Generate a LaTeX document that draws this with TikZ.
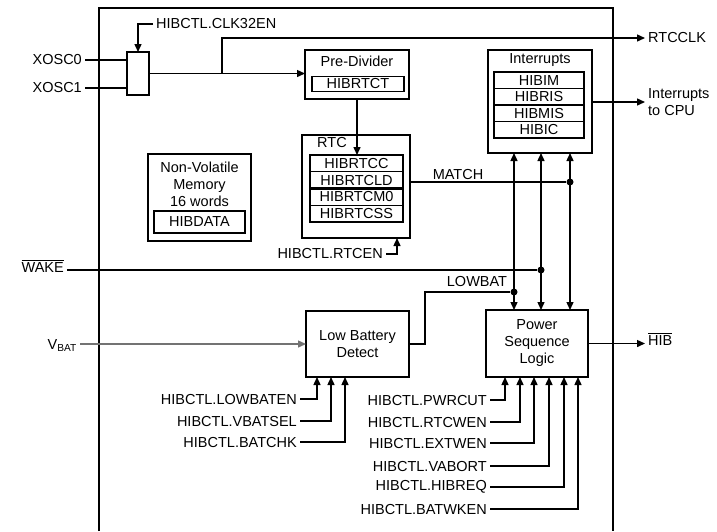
\documentclass[tikz,border=0pt]{standalone}
\usepackage{fontspec}
\setmainfont{Liberation Sans}
\usetikzlibrary{arrows.meta,positioning}

\begin{document}
\begin{tikzpicture}[
        x=1pt, y=-1pt,
        font=\fontsize{14.5}{17}\selectfont,
        block/.style={draw, line width=1.4pt, inner sep=0pt, outer sep=0pt},
        reg/.style={draw, line width=1.3pt, minimum width=90pt, minimum height=16.5pt, inner sep=0pt, outer sep=0pt},
        rtcreg/.style={reg, minimum width=93pt, minimum height=16.75pt},
        sig/.style={inner sep=3pt},
        wire/.style={line width=1.4pt},
        arr/.style={wire, -{Triangle[length=8pt,width=7pt]}},
        twoway/.style={wire, {Triangle[length=8pt,width=7pt]}-{Triangle[length=8pt,width=7pt]}},
        dot/.style={circle, fill, inner sep=0pt, minimum size=7pt}
    ]
    \useasboundingbox (0,0) rectangle (717,531);
    % module frame, open at the bottom
    \draw[line width=1.3pt] (99,531) |- (613,8) -- (613,531);

    % clock select
    \node[block, minimum width=22pt, minimum height=43pt] (mux) at (138,73.5) {};
    \node[sig, anchor=east] (xosc0) at (85,60) {XOSC0};
    \node[sig, anchor=east] (xosc1) at (85,88) {XOSC1};
    \node[sig, anchor=west] (clken) at (153,24) {HIBCTL.CLK32EN};
    \draw[wire] (xosc0.east) -- (xosc0.east -| mux.west);
    \draw[wire] (xosc1.east) -- (xosc1.east -| mux.west);
    \draw[arr] (clken.west) -| (mux.north);

    % pre-divider
    \node[block, minimum width=104pt, minimum height=49pt] (prediv) at (357,74.5) {};
    \node (prediv-t) at (357,61) {Pre-Divider};
    \node[reg, minimum width=92pt, minimum height=15.5pt] (hibrtct) at (358,84) {HIBRTCT};
    \draw[arr] (mux.east) -- (mux.east -| prediv.west);
    \coordinate (clkbr) at (222,73.5);
    \node[sig, anchor=west] (rtcclk) at (645,38) {RTCCLK};
    \draw[arr] (clkbr) |- (rtcclk.west);

    % RTC
    \node[block, minimum width=108pt, minimum height=103pt] (rtc) at (356,186.5) {};
    \node (rtc-t) at (332,143) {RTC};
    \node[rtcreg] (rtcc) at (356.5,163.4) {HIBRTCC};
    \node[rtcreg, below=0pt of rtcc] (rtcld) {HIBRTCLD};
    \node[rtcreg, below=0pt of rtcld] (rtcm0) {HIBRTCM0};
    \node[rtcreg, below=0pt of rtcm0] (rtcss) {HIBRTCSS};
    \draw[line width=2.6pt] (rtcld.south west) -- (rtcld.south east);
    \draw[arr] (prediv.south) -- (prediv.south |- rtcc.north);
    \node[sig, anchor=east] (rtcen) at (386,254) {HIBCTL.RTCEN};
    \draw[arr] (rtcen.east) -| ([xshift=41pt]rtc.south);

    % non-volatile memory
    \node[block, minimum width=103pt, minimum height=87pt] (nvm) at (199.5,197.5) {};
    \node[align=center] (nvm-t) at (199.5,184) {Non-Volatile\\Memory\\16 words};
    \node[reg, minimum width=91pt, minimum height=22pt] (hibdata) at (199.5,222) {HIBDATA};

    % interrupts
    \node[block, minimum width=104pt, minimum height=103pt] (ints) at (540,101.5) {};
    \node (ints-t) at (540,60) {Interrupts};
    \node[reg] (hibim) at (539,80.25) {HIBIM};
    \node[reg, below=0pt of hibim] (hibris) {HIBRIS};
    \node[reg, below=0pt of hibris] (hibmis) {HIBMIS};
    \node[reg, below=0pt of hibmis] (hibic) {HIBIC};
    \node[sig, anchor=west, align=left] (intcpu) at (645,102) {Interrupts\\to CPU};
    \draw[arr] (ints.east |- intcpu.west) -- (intcpu.west);

    % power sequence logic
    \node[block, minimum width=102pt, minimum height=67pt, align=center] (psl) at (537,343.5) {Power\\Sequence\\Logic};
    \node[sig, anchor=base west] (hib) at (645,345) {$\overline{\mbox{HIB}}$};
    \draw[arr] (psl.east) -- (psl.east -| hib.west);

    \coordinate (va) at (514,0);
    \coordinate (vb) at (541,0);
    \coordinate (vc) at (570,0);
    \foreach \v in {va,vb,vc}
        \draw[twoway] (\v |- ints.south) -- (\v |- psl.north);
    \node[dot] (mdot) at (570,182) {};
    \node[dot] (wdot) at (541,270) {};
    \node[dot] (ldot) at (514,292) {};

    \draw[wire] (rtc.east |- mdot) -- (mdot);
    \node (match) at (458,175) {MATCH};

    \node[sig, anchor=base east] (wake) at (67,272) {$\overline{\mbox{WAKE}}$};
    \draw[wire] (wake.east |- wdot) -- (wdot);

    % low battery detect
    \node[block, minimum width=103pt, minimum height=66pt, align=center] (lbd) at (357.5,344) {Low Battery\\Detect};
    \draw[wire] (lbd.east) -- ++(16,0) |- (ldot);
    \node (lowbat) at (477,281) {LOWBAT};
    \node[sig, anchor=base east] (vbat) at (80,349) {V\textsubscript{BAT}};
    \draw[arr, black!55] (vbat.east |- lbd.west) -- (lbd.west);

    % control bits
    \foreach \nm/\x/\y in {LOWBATEN/317/399, VBATSEL/331/421, BATCHK/345/442}{
        \node[sig, anchor=east] (lb-\nm) at (300,\y) {HIBCTL.\nm};
        \coordinate (lbx) at (\x,0);
        \draw[arr] (lb-\nm.east) -| (lbx |- lbd.south);
    }
    \foreach \nm/\x/\y in {PWRCUT/505/400, RTCWEN/520/422, EXTWEN/534/443, VABORT/549/466, HIBREQ/564/487, BATWKEN/578/509}{
        \node[sig, anchor=east] (ps-\nm) at (490,\y) {HIBCTL.\nm};
        \coordinate (psx) at (\x,0);
        \draw[arr] (ps-\nm.east) -| (psx |- psl.south);
    }
\end{tikzpicture}
\end{document}
